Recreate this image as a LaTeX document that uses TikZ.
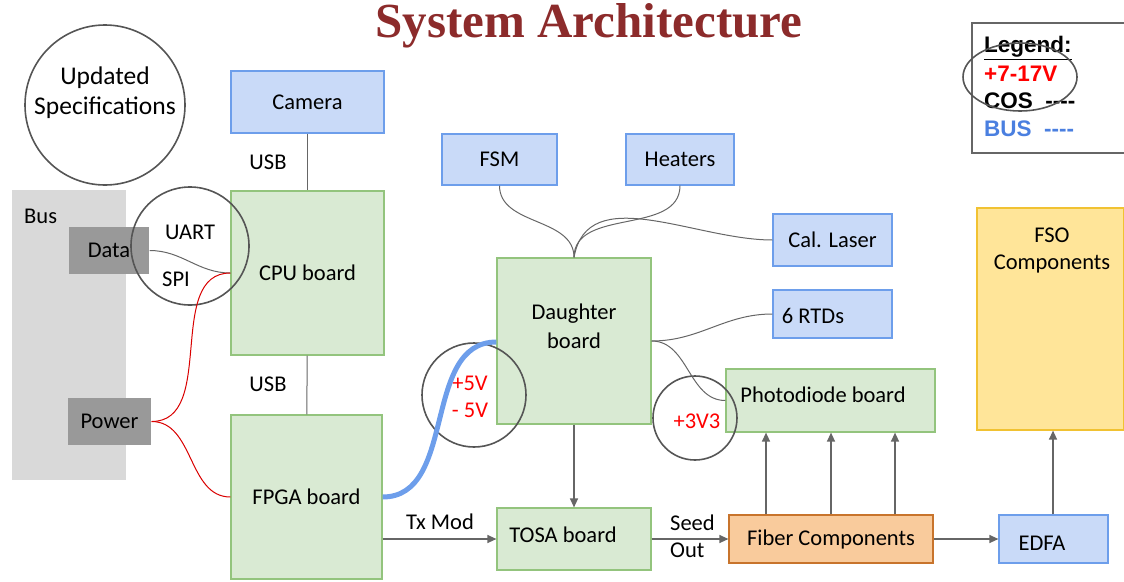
\documentclass[tikz,border=0pt]{standalone}
\usepackage{fontspec}
\setmainfont{Carlito}
\newfontfamily\arialfont{Liberation Sans}
\newfontfamily\titlefont{Liberation Serif}
\usetikzlibrary{arrows.meta,shapes.geometric}
\definecolor{bfill}{HTML}{C9DAF8}
\definecolor{bline}{HTML}{6D9EEB}
\definecolor{gfill}{HTML}{D9EAD3}
\definecolor{gline}{HTML}{93C47D}
\definecolor{ofill}{HTML}{F9CB9C}
\definecolor{oline}{HTML}{C8742C}
\definecolor{yfill}{HTML}{FFE599}
\definecolor{yline}{HTML}{F1C232}
\definecolor{busgray}{HTML}{D9D9D9}
\definecolor{dgray}{HTML}{999999}
\definecolor{titlered}{HTML}{8C2B2B}
\definecolor{linegray}{HTML}{666666}
\definecolor{circgray}{HTML}{555555}
\definecolor{legblue}{HTML}{4A7FE0}
\begin{document}
\begin{tikzpicture}[x=1pt,y=-1pt,
  lbl/.style={font=\fontsize{22.5}{26}\selectfont, inner sep=0pt},
  box/.style={draw, line width=1.2pt, font=\fontsize{22.5}{26}\selectfont, align=center, inner sep=0pt},
  bluebox/.style={box, fill=bfill, draw=bline},
  greenbox/.style={box, fill=gfill, draw=gline},
  orangebox/.style={box, fill=ofill, draw=oline},
  yellowbox/.style={box, fill=yfill, draw=yline},
  graybox/.style={box, fill=dgray, draw=none},
  arr/.style={draw=linegray, line width=1.3pt, -{Triangle[length=9pt,width=8pt]}},
  wire/.style={draw=linegray, line width=1pt},
  redwire/.style={draw=red!85!black, line width=1pt},
  ring/.style={draw=circgray, line width=1.6pt},
  redtxt/.style={lbl, text=red},
  legtxt/.style={font=\arialfont\bfseries\fontsize{22.5}{26}\selectfont, inner sep=0pt, anchor=west}
]
\useasboundingbox (0,0) rectangle (1124,581);

% title
\node[font=\titlefont\bfseries\fontsize{49}{56}\selectfont, text=titlered, inner sep=0pt, anchor=base] (title) at (589,37) {System Architecture};

% bus
\node[box, fill=busgray, draw=none, minimum width=114pt, minimum height=290pt] (bus) at (69,335) {};
\node[lbl, anchor=west] (buslbl) at (24,216) {Bus};
\node[graybox, minimum width=80pt, minimum height=47pt] (data) at (109,250.5) {Data};
\node[graybox, minimum width=83pt, minimum height=47pt] (power) at (109.5,421.5) {Power};

% boxes
\node[bluebox, minimum width=153pt, minimum height=62pt] (cam) at (307.5,102) {Camera};
\node[greenbox, minimum width=153pt, minimum height=164pt] (cpu) at (307.5,273) {CPU board};
\node[greenbox, minimum width=151pt, minimum height=164pt] (fpga) at (306.5,497) {FPGA board};
\node[bluebox, minimum width=115pt, minimum height=51pt] (fsm) at (499.5,159.5) {FSM};
\node[bluebox, minimum width=108pt, minimum height=51pt] (heat) at (680,159.5) {Heaters};
\node[bluebox, minimum width=119pt, minimum height=52pt] (cal) at (832.5,240) {Cal. Laser};
\node[bluebox, minimum width=119pt, minimum height=48pt] (rtd) at (832.5,314) {};
\node[lbl] (rtdt) at (813,316) {6 RTDs};
\node[greenbox, minimum width=154pt, minimum height=166pt] (dau) at (574,341) {};
\node[lbl, align=center] (daut) at (574,326) {Daughter\\[3pt]board};
\node[greenbox, minimum width=209pt, minimum height=63pt] (pd) at (830.5,400.5) {};
\node[lbl] (pdt) at (823,395) {Photodiode board};
\node[greenbox, minimum width=154pt, minimum height=62pt] (tosa) at (574,539) {};
\node[lbl] (tosat) at (563,535) {TOSA board};
\node[orangebox, minimum width=204pt, minimum height=48pt] (fib) at (831,539) {Fiber Components};
\node[bluebox, minimum width=109pt, minimum height=48pt] (edfa) at (1053.5,539) {};
\node[lbl] (edfat) at (1042,543) {EDFA};
\node[yellowbox, minimum width=147pt, minimum height=222pt] (fso) at (1050.5,319) {};
\node[lbl, align=center] (fsot) at (1052,251) {FSO\\[1pt]Components};

% legend
\node[draw=linegray, line width=1.6pt, minimum width=185pt, minimum height=130pt, anchor=north west, inner sep=0pt] (leg) at (971,22) {};
\node[legtxt] (l1) at (984,48) {\underline{Legend:}};
\node[legtxt, text=red] (l2) at (984,74) {+7-17V};
\node[legtxt] (l3) at (984,101) {COS\ \ ----};
\node[legtxt, text=legblue] (l4) at (984,129) {BUS\ \ ----};

% labels
\node[lbl] (usb1) at (268,162) {USB};
\node[lbl] (usb2) at (268,384) {USB};
\node[lbl] (uart) at (190,232) {UART};
\node[lbl] (spi) at (176,279) {SPI};
\node[lbl] (txmod) at (440,522) {Tx Mod};
\node[lbl, anchor=west] (seed) at (670,523) {Seed};
\node[lbl, anchor=west] (out) at (670,550) {Out};
\node[redtxt] (p5) at (470,383) {+5V};
\node[redtxt] (m5) at (470,410) {- 5V};
\node[redtxt] (p33) at (697,421) {+3V3};
\node[font=\fontsize{25.5}{29}\selectfont, align=center, inner sep=0pt] (spec) at (105,93) {Updated\\[1pt]Specifications};

% circles
\node[ring, circle, minimum size=160pt, inner sep=0pt] (c1) at (105,105) {};
\node[ring, circle, minimum size=118pt, inner sep=0pt] (c2) at (190,246) {};
\node[ring, circle, minimum size=104pt, inner sep=0pt] (c3) at (474,395) {};
\node[ring, circle, minimum size=84pt, inner sep=0pt] (c4) at (695,418) {};
\node[ring, ellipse, minimum width=114pt, minimum height=68pt, inner sep=0pt] (c5) at (1020,77) {};

% connectors
\draw[wire] (cam) -- (cpu);
\draw[wire] (cpu) -- (fpga);
\draw[wire] (data.east) to[out=0,in=180] (cpu.west);
\draw[redwire] (power.east) to[out=0,in=180] (cpu.west);
\draw[redwire] (power.east) to[out=0,in=180] (fpga.west);
\draw[draw=bline, line width=5pt] (fpga.east) to[out=0,in=180] ([yshift=-1pt]dau.west);
\draw[wire] (fsm.south) to[out=-90,in=90] (dau.north);
\draw[wire] (heat.south) to[out=-90,in=90] (dau.north);
\draw[wire] (cal.west) to[out=180,in=80] (dau.north);
\draw[wire] (dau.east) to[out=0,in=180] (rtd.west);
\draw[wire] (dau.east) to[out=0,in=180] (pd.west);
\draw[arr] (dau.south) -- (tosa.north);
\draw[arr] (tosa.west -| fpga.east) -- (tosa.west);
\draw[arr] (tosa.east) -- (fib.west);
\draw[arr] (fib.east) -- (edfa.west);
\draw[arr] ([xshift=-65pt]fib.north) -- ([xshift=-65pt]fib.north |- pd.south);
\draw[arr] (fib.north) -- (fib.north |- pd.south);
\draw[arr] ([xshift=64pt]fib.north) -- ([xshift=64pt]fib.north |- pd.south);
\draw[arr] ([xshift=-0.5pt]edfa.north) -- ([xshift=-0.5pt]edfa.north |- fso.south);
\end{tikzpicture}
\end{document}
